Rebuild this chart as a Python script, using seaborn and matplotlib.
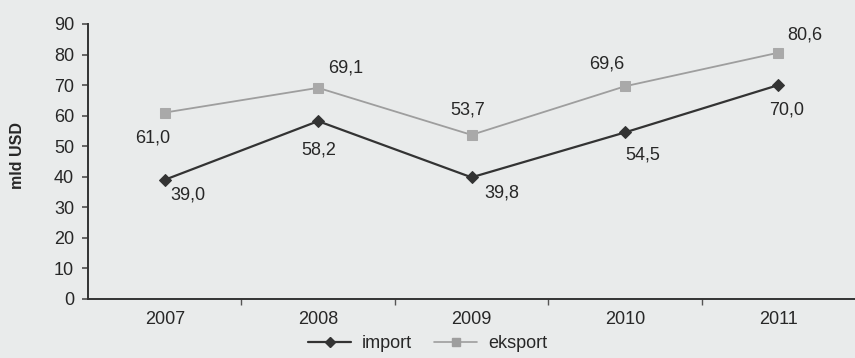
import matplotlib
matplotlib.use("Agg")
import matplotlib.pyplot as plt
import seaborn as sns
import pandas as pd
from matplotlib.ticker import FixedLocator
from matplotlib.lines import Line2D

years = ["2007", "2008", "2009", "2010", "2011"]
imports = [39.0, 58.2, 39.8, 54.5, 70.0]
exports = [61.0, 69.1, 53.7, 69.6, 80.6]
series_names = ["import", "eksport"]

sns.set_theme(style="white")
plt.rcParams["font.family"] = ["Liberation Sans", "DejaVu Sans"]

bg = "#e9ebeb"
txt = "#272727"

df = pd.DataFrame({
    "idx": list(range(len(years))) * 2,
    "value": imports + exports,
    "series": [series_names[0]] * len(years) + [series_names[1]] * len(years),
})

fig = plt.figure(figsize=(8.55, 3.58), dpi=100, facecolor=bg)
ax = fig.add_axes([0.103, 0.165, 0.897, 0.768])
ax.set_facecolor(bg)

sns.lineplot(data=df, x="idx", y="value", hue="series", style="series",
             palette={"import": "#333333", "eksport": "#9e9e9e"},
             markers={"import": "D", "eksport": "s"},
             dashes=False, markersize=7, linewidth=1.6, ax=ax, legend=False)
for ln, mfc in zip(ax.lines, ["#333333", "#a9a9a9"]):
    ln.set_markerfacecolor(mfc)
    ln.set_markeredgecolor(mfc)
ax.lines[0].set_markersize(6)
ax.lines[1].set_linewidth(1.3)

ax.set_xlim(-0.5, 4.5)
ax.set_ylim(0, 90)
ax.set_yticks(range(0, 91, 10))
ax.set_xticks(range(len(years)))
ax.set_xticklabels(years)
ax.xaxis.set_minor_locator(FixedLocator([0.5, 1.5, 2.5, 3.5]))
ax.tick_params(axis="x", which="major", length=0, pad=9, labelsize=13, labelcolor=txt)
ax.tick_params(axis="x", which="minor", length=4, direction="out", color="#555555", bottom=True)
ax.tick_params(axis="y", length=4, direction="out", color="#555555", left=True, labelsize=13, labelcolor=txt, pad=6)
for s in ["top", "right"]:
    ax.spines[s].set_visible(False)
for s in ["left", "bottom"]:
    ax.spines[s].set_color("#333333")
    ax.spines[s].set_linewidth(1.4)
ax.set_xlabel("")
ax.set_ylabel("mld USD", fontsize=11.5, fontweight="bold", color=txt)
ax.yaxis.set_label_coords(-0.082, 0.52)

def fmt(v):
    return f"{v:.1f}".replace(".", ",")

exp_off = [(-9, -18), (19.5, 14.5), (-3, 18), (-13, 16), (19, 13)]
imp_off = [(17, -11), (0.5, -21), (22, -11.5), (13, -16), (6, -18)]
for i, (v, o) in enumerate(zip(exports, exp_off)):
    ax.annotate(fmt(v), (i, v), xytext=o, textcoords="offset points",
                ha="center", va="center", fontsize=13, color=txt)
for i, (v, o) in enumerate(zip(imports, imp_off)):
    ax.annotate(fmt(v), (i, v), xytext=o, textcoords="offset points",
                ha="center", va="center", fontsize=13, color=txt)

handles = [
    Line2D([], [], color="#333333", marker="D", markersize=5, linewidth=1.6),
    Line2D([], [], color="#9e9e9e", marker="s", markersize=6, linewidth=1.2),
]
fig.legend(handles, series_names, loc="center", bbox_to_anchor=(0.5, 0.04),
           ncol=2, frameon=False, fontsize=13, handlelength=2.4,
           columnspacing=1.2, handletextpad=0.6, labelcolor=txt)

fig.savefig("out.png", dpi=100, facecolor=bg)
